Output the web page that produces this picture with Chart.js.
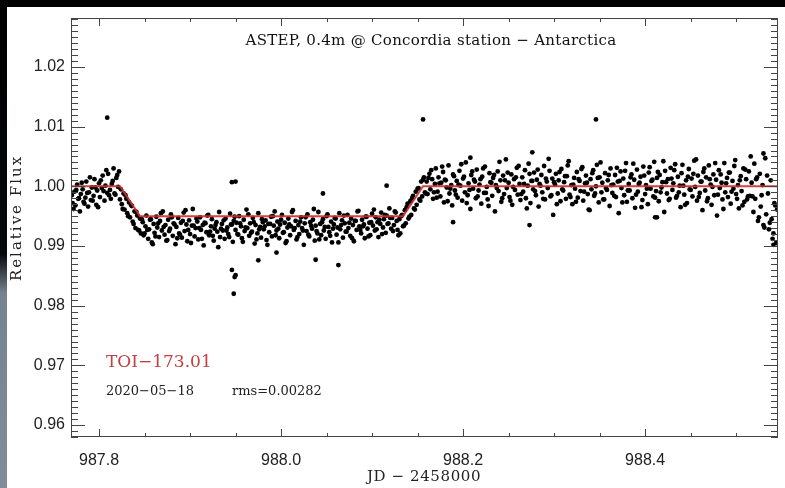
<!DOCTYPE html>
<html>
<head>
<meta charset="utf-8">
<script src="https://cdn.jsdelivr.net/npm/chart.js@4.4.0/dist/chart.umd.min.js"></script>
<style>
  html, body { margin: 0; padding: 0; background: #fff; }
  #wrap { width: 785px; height: 488px; }
</style>
</head>
<body>
<div id="wrap"><canvas id="lc" width="785" height="488"></canvas></div>
<script>
// JD - 2458000 and relative flux
const preTimes = [
  987.770, 987.771, 987.773, 987.774, 987.776, 987.777, 987.779, 987.780, 987.782, 987.783,
  987.785, 987.786, 987.788, 987.789, 987.791, 987.792, 987.794, 987.795, 987.797, 987.798,
  987.800, 987.801, 987.803, 987.804, 987.806, 987.807, 987.809, 987.810, 987.812, 987.813,
  987.815, 987.816, 987.818, 987.819, 987.821, 987.822,
  987.772, 987.775, 987.778, 987.781, 987.784, 987.787, 987.790, 987.793, 987.796, 987.799,
  987.802, 987.805, 987.808, 987.811, 987.814, 987.817, 987.820, 987.823,
];
const preFlux = [
  0.9985, 0.9972, 0.9991, 0.9968, 1.0003, 0.9979, 0.9958, 0.9987, 0.9995, 0.9974,
  0.9981, 1.0008, 0.9966, 0.9990, 0.9977, 0.9998, 0.9984, 1.0012, 0.9969, 0.9993,
  1.0005, 0.9982, 0.9997, 1.0018, 0.9976, 1.0001, 0.9989, 1.0021, 0.9994, 0.9979,
  1.0009, 1.0030, 0.9986, 1.0014, 0.9999, 1.0025,
  0.9962, 0.9994, 0.9980, 1.0006, 0.9971, 0.9989, 1.0015, 0.9976, 0.9998, 0.9965,
  1.0010, 0.9992, 1.0027, 0.9985, 1.0004, 0.9988, 1.0019, 0.9978,
];

const ingressTimes = [
  987.824, 987.825, 987.827, 987.828, 987.830, 987.831, 987.833, 987.834,
  987.836, 987.837, 987.839, 987.840, 987.842, 987.843, 987.845, 987.846,
  987.826, 987.829, 987.832, 987.835, 987.838, 987.841, 987.844, 987.847,
];
const ingressFlux = [
  0.9995, 0.9970, 0.9988, 0.9961, 0.9979, 0.9955, 0.9973, 0.9948,
  0.9967, 0.9941, 0.9958, 0.9930, 0.9951, 0.9927, 0.9946, 0.9921,
  0.9962, 0.9985, 0.9950, 0.9969, 0.9937, 0.9957, 0.9926, 0.9945,
];

const transitTimes = [
  987.848, 987.849, 987.851, 987.852, 987.854, 987.855, 987.857, 987.858, 987.860, 987.861,
  987.863, 987.864, 987.866, 987.867, 987.869, 987.870, 987.872, 987.873, 987.875, 987.876,
  987.878, 987.879, 987.881, 987.882, 987.884, 987.885, 987.887, 987.888, 987.890, 987.891,
  987.893, 987.894, 987.896, 987.897, 987.899, 987.900, 987.902, 987.903, 987.905, 987.906,
  987.908, 987.909, 987.911, 987.912, 987.914, 987.915, 987.917, 987.918, 987.920, 987.921,
  987.923, 987.924, 987.926, 987.927, 987.929, 987.930, 987.932, 987.933, 987.935, 987.936,
  987.938, 987.939, 987.941, 987.942, 987.944, 987.945, 987.947, 987.948, 987.950, 987.951,
  987.953, 987.954, 987.956, 987.957, 987.959, 987.960, 987.962, 987.963, 987.965, 987.966,
  987.968, 987.969, 987.971, 987.972, 987.974, 987.975, 987.977, 987.978, 987.980, 987.981,
  987.983, 987.984, 987.986, 987.987, 987.989, 987.990, 987.992, 987.993, 987.995, 987.996,
  987.998, 987.999, 988.001, 988.002, 988.004, 988.005, 988.007, 988.008, 988.010, 988.011,
  988.013, 988.014, 988.016, 988.017, 988.019, 988.020, 988.022, 988.023, 988.025, 988.026,
  988.028, 988.029, 988.031, 988.032, 988.034, 988.035, 988.037, 988.038, 988.040, 988.041,
  988.043, 988.044, 988.046, 988.047, 988.049, 988.050, 988.052, 988.053, 988.055, 988.056,
  988.058, 988.059, 988.061, 988.062, 988.064, 988.065, 988.067, 988.068, 988.070, 988.071,
  988.073, 988.074, 988.076, 988.077, 988.079, 988.080, 988.082, 988.083, 988.085, 988.086,
  988.088, 988.089, 988.091, 988.092, 988.094, 988.095, 988.097, 988.098, 988.100, 988.101,
  988.103, 988.104, 988.106, 988.107, 988.109, 988.110, 988.112, 988.113, 988.115, 988.116,
  988.118, 988.119, 988.121, 988.122, 988.124, 988.125, 988.127, 988.128,
  987.850, 987.853, 987.856, 987.859, 987.862, 987.865, 987.868, 987.871, 987.874, 987.877,
  987.880, 987.883, 987.886, 987.889, 987.892, 987.895, 987.898, 987.901, 987.904, 987.907,
  987.910, 987.913, 987.916, 987.919, 987.922, 987.925, 987.928, 987.931, 987.934, 987.937,
  987.940, 987.943, 987.946, 987.949, 987.952, 987.955, 987.958, 987.961, 987.964, 987.967,
  987.970, 987.973, 987.976, 987.979, 987.982, 987.985, 987.988, 987.991, 987.994, 987.997,
  988.000, 988.003, 988.006, 988.009, 988.012, 988.015, 988.018, 988.021, 988.024, 988.027,
  988.030, 988.033, 988.036, 988.039, 988.042, 988.045, 988.048, 988.051, 988.054, 988.057,
  988.060, 988.063, 988.066, 988.069, 988.072, 988.075, 988.078, 988.081, 988.084, 988.087,
  988.090, 988.093, 988.096, 988.099, 988.102, 988.105, 988.108, 988.111, 988.114, 988.117,
  988.120, 988.123, 988.126,
];
const transitFlux = [
  0.9940, 0.9918, 0.9933, 0.9951, 0.9912, 0.9928, 0.9945, 0.9906, 0.9937, 0.9922,
  0.9949, 0.9931, 0.9915, 0.9942, 0.9926, 0.9958, 0.9919, 0.9935, 0.9910, 0.9944,
  0.9929, 0.9953, 0.9917, 0.9938, 0.9903, 0.9932, 0.9947, 0.9921, 0.9939, 0.9914,
  0.9956, 0.9925, 0.9936, 0.9908, 0.9943, 0.9920, 0.9934, 0.9962, 0.9916, 0.9930,
  0.9941, 0.9911, 0.9948, 0.9927, 0.9935, 0.9901, 0.9938, 0.9923, 0.9952, 0.9918,
  0.9933, 0.9945, 0.9909, 0.9929, 0.9940, 0.9924, 0.9957, 0.9915, 0.9937, 0.9926,
  0.9912, 0.9946, 0.9931, 0.9920, 0.9954, 0.9936, 0.9907, 0.9942, 0.9927, 0.9939,
  0.9919, 0.9950, 0.9933, 0.9913, 0.9944, 0.9925, 0.9961, 0.9930, 0.9917, 0.9938,
  0.9924, 0.9947, 0.9904, 0.9935, 0.9921, 0.9955, 0.9932, 0.9914, 0.9940, 0.9928,
  0.9943, 0.9910, 0.9937, 0.9923, 0.9949, 0.9916, 0.9934, 0.9958, 0.9926, 0.9941,
  0.9913, 0.9936, 0.9952, 0.9922, 0.9939, 0.9905, 0.9931, 0.9946, 0.9918, 0.9933,
  0.9960, 0.9927, 0.9942, 0.9911, 0.9935, 0.9920, 0.9948, 0.9930, 0.9902, 0.9938,
  0.9925, 0.9953, 0.9916, 0.9940, 0.9929, 0.9944, 0.9909, 0.9934, 0.9921, 0.9957,
  0.9937, 0.9918, 0.9945, 0.9926, 0.9912, 0.9950, 0.9932, 0.9923, 0.9941, 0.9906,
  0.9936, 0.9947, 0.9919, 0.9931, 0.9955, 0.9928, 0.9943, 0.9914, 0.9938, 0.9924,
  0.9952, 0.9930, 0.9917, 0.9946, 0.9935, 0.9908, 0.9942, 0.9927, 0.9959, 0.9933,
  0.9921, 0.9944, 0.9936, 0.9913, 0.9949, 0.9929, 0.9939, 0.9918, 0.9954, 0.9934,
  0.9926, 0.9948, 0.9940, 0.9915, 0.9937, 0.9956, 0.9931, 0.9945, 0.9922, 0.9951,
  0.9938, 0.9963, 0.9929, 0.9947, 0.9935, 0.9958, 0.9942, 0.9927,
  0.9921, 0.9927, 0.9944, 0.9903, 0.9916, 0.9938, 0.9955, 0.9932, 0.9909, 0.9925,
  0.9948, 0.9936, 0.9913, 0.9919, 0.9942, 0.9960, 0.9927, 0.9905, 0.9934, 0.9946,
  0.9930, 0.9912, 0.9939, 0.9951, 0.9924, 0.9917, 0.9935, 0.9898, 0.9929, 0.9943,
  0.9926, 0.9915, 0.9936, 0.9949, 0.9920, 0.9938, 0.9907, 0.9931, 0.9953, 0.9922,
  0.9940, 0.9911, 0.9928, 0.9945, 0.9933, 0.9902, 0.9937, 0.9950, 0.9918, 0.9929,
  0.9944, 0.9923, 0.9908, 0.9936, 0.9957, 0.9930, 0.9915, 0.9941, 0.9926, 0.9948,
  0.9919, 0.9934, 0.9962, 0.9925, 0.9911, 0.9940, 0.9932, 0.9953, 0.9917, 0.9929,
  0.9946, 0.9906, 0.9935, 0.9951, 0.9924, 0.9939, 0.9913, 0.9942, 0.9958, 0.9927,
  0.9933, 0.9949, 0.9916, 0.9940, 0.9961, 0.9928, 0.9944, 0.9920, 0.9952, 0.9937,
  0.9947, 0.9925, 0.9956,
];

const egressTimes = [
  988.130, 988.131, 988.133, 988.134, 988.136, 988.137, 988.139, 988.140, 988.142, 988.143,
  988.145, 988.146, 988.148, 988.149, 988.151, 988.152, 988.154, 988.155, 988.157, 988.158,
  988.129, 988.132, 988.135, 988.138, 988.141, 988.144, 988.147, 988.150, 988.153, 988.156,
  988.159,
];
const egressFlux = [
  0.9945, 0.9921, 0.9952, 0.9933, 0.9960, 0.9938, 0.9971, 0.9946, 0.9975, 0.9952,
  0.9984, 0.9963, 0.9991, 0.9969, 0.9997, 0.9978, 1.0008, 0.9983, 1.0015, 0.9990,
  0.9918, 0.9950, 0.9934, 0.9965, 0.9949, 0.9980, 0.9961, 0.9996, 0.9976, 1.0011,
  0.9988,
];

const postTimes = [
  988.160, 988.161, 988.163, 988.164, 988.166, 988.167, 988.169, 988.170, 988.172, 988.173,
  988.175, 988.176, 988.178, 988.179, 988.181, 988.182, 988.184, 988.185, 988.187, 988.188,
  988.190, 988.191, 988.193, 988.194, 988.196, 988.197, 988.199, 988.200, 988.202, 988.203,
  988.205, 988.206, 988.208, 988.209, 988.211, 988.212, 988.214, 988.215, 988.217, 988.218,
  988.220, 988.221, 988.223, 988.224, 988.226, 988.227, 988.229, 988.230, 988.232, 988.233,
  988.235, 988.236, 988.238, 988.239, 988.241, 988.242, 988.244, 988.245, 988.247, 988.248,
  988.250, 988.251, 988.253, 988.254, 988.256, 988.257, 988.259, 988.260, 988.262, 988.263,
  988.265, 988.266, 988.268, 988.269, 988.271, 988.272, 988.274, 988.275, 988.277, 988.278,
  988.280, 988.281, 988.283, 988.284, 988.286, 988.287, 988.289, 988.290, 988.292, 988.293,
  988.295, 988.296, 988.298, 988.299, 988.301, 988.302, 988.304, 988.305, 988.307, 988.308,
  988.310, 988.311, 988.313, 988.314, 988.316, 988.317, 988.319, 988.320, 988.322, 988.323,
  988.325, 988.326, 988.328, 988.329, 988.331, 988.332, 988.334, 988.335, 988.337, 988.338,
  988.340, 988.341, 988.343, 988.344, 988.346, 988.347, 988.349, 988.350, 988.352, 988.353,
  988.355, 988.356, 988.358, 988.359, 988.361, 988.362, 988.364, 988.365, 988.367, 988.368,
  988.370, 988.371, 988.373, 988.374, 988.376, 988.377, 988.379, 988.380, 988.382, 988.383,
  988.385, 988.386, 988.388, 988.389, 988.391, 988.392, 988.394, 988.395, 988.397, 988.398,
  988.400, 988.401, 988.403, 988.404, 988.406, 988.407, 988.409, 988.410, 988.412, 988.413,
  988.415, 988.416, 988.418, 988.419, 988.421, 988.422, 988.424, 988.425, 988.427, 988.428,
  988.430, 988.431, 988.433, 988.434, 988.436, 988.437, 988.439, 988.440, 988.442, 988.443,
  988.445, 988.446, 988.448, 988.449, 988.451, 988.452, 988.454, 988.455, 988.457, 988.458,
  988.460, 988.461, 988.463, 988.464, 988.466, 988.467, 988.469, 988.470, 988.472, 988.473,
  988.475, 988.476, 988.478, 988.479, 988.481, 988.482, 988.484, 988.485, 988.487, 988.488,
  988.490, 988.491, 988.493, 988.494, 988.496, 988.497, 988.499, 988.500, 988.502, 988.503,
  988.505, 988.506, 988.508, 988.509, 988.511, 988.512, 988.514, 988.515, 988.517, 988.518,
  988.520, 988.521, 988.523, 988.524, 988.526, 988.527, 988.529, 988.530, 988.532, 988.533,
  988.535, 988.536, 988.538, 988.539, 988.541, 988.542, 988.544, 988.545,
  988.162, 988.165, 988.168, 988.171, 988.174, 988.177, 988.180, 988.183, 988.186, 988.189,
  988.192, 988.195, 988.198, 988.201, 988.204, 988.207, 988.210, 988.213, 988.216, 988.219,
  988.222, 988.225, 988.228, 988.231, 988.234, 988.237, 988.240, 988.243, 988.246, 988.249,
  988.252, 988.255, 988.258, 988.261, 988.264, 988.267, 988.270, 988.273, 988.276, 988.279,
  988.282, 988.285, 988.288, 988.291, 988.294, 988.297, 988.300, 988.303, 988.306, 988.309,
  988.312, 988.315, 988.318, 988.321, 988.324, 988.327, 988.330, 988.333, 988.336, 988.339,
  988.342, 988.345, 988.348, 988.351, 988.354, 988.357, 988.360, 988.363, 988.366, 988.369,
  988.372, 988.375, 988.378, 988.381, 988.384, 988.387, 988.390, 988.393, 988.396, 988.399,
  988.402, 988.405, 988.408, 988.411, 988.414, 988.417, 988.420, 988.423, 988.426, 988.429,
  988.432, 988.435, 988.438, 988.441, 988.444, 988.447, 988.450, 988.453, 988.456, 988.459,
  988.462, 988.465, 988.468, 988.471, 988.474, 988.477, 988.480, 988.483, 988.486, 988.489,
  988.492, 988.495, 988.498, 988.501, 988.504, 988.507, 988.510, 988.513, 988.516, 988.519,
  988.522, 988.525, 988.528, 988.531, 988.534, 988.537, 988.540, 988.543,
];
const postFlux = [
  1.0008, 0.9987, 1.0021, 0.9995, 1.0012, 0.9979, 1.0004, 1.0030, 0.9991, 1.0015,
  0.9983, 1.0006, 1.0024, 0.9973, 1.0010, 0.9998, 1.0035, 0.9988, 1.0002, 0.9968,
  1.0017, 0.9993, 1.0009, 0.9981, 1.0026, 1.0001, 0.9976, 1.0013, 0.9990, 1.0040,
  0.9985, 1.0005, 0.9962, 1.0019, 0.9996, 1.0011, 0.9980, 1.0028, 0.9993, 1.0003,
  0.9971, 1.0016, 0.9989, 1.0033, 0.9999, 0.9978, 1.0022, 1.0007, 0.9984, 1.0014,
  0.9958, 1.0002, 1.0025, 0.9992, 1.0010, 0.9974, 1.0018, 0.9987, 1.0045, 0.9997,
  1.0006, 0.9982, 1.0020, 0.9969, 1.0012, 0.9994, 1.0031, 0.9986, 1.0004, 0.9977,
  1.0015, 0.9991, 1.0027, 0.9980, 1.0001, 1.0038, 0.9972, 1.0009, 0.9995, 1.0023,
  0.9985, 1.0011, 0.9966, 1.0004, 1.0019, 0.9990, 1.0034, 0.9978, 1.0008, 0.9997,
  1.0026, 0.9983, 1.0013, 0.9952, 1.0003, 1.0021, 0.9988, 1.0010, 0.9975, 1.0029,
  0.9993, 1.0007, 0.9979, 1.0017, 1.0042, 0.9986, 1.0002, 0.9970, 1.0014, 0.9996,
  1.0024, 0.9981, 1.0009, 0.9992, 1.0032, 0.9976, 1.0005, 1.0018, 0.9987, 0.9961,
  1.0012, 0.9995, 1.0027, 0.9984, 1.0000, 1.0036, 0.9973, 1.0015, 0.9990, 1.0006,
  0.9978, 1.0022, 0.9994, 1.0010, 0.9967, 1.0030, 0.9989, 1.0003, 1.0019, 0.9982,
  1.0008, 0.9955, 1.0025, 0.9997, 1.0013, 0.9985, 1.0039, 0.9974, 1.0004, 0.9993,
  1.0020, 0.9980, 1.0011, 0.9964, 1.0028, 0.9991, 1.0006, 1.0016, 0.9977, 1.0033,
  0.9987, 1.0002, 0.9970, 1.0023, 0.9996, 1.0009, 0.9983, 1.0041, 0.9992, 1.0014,
  0.9975, 1.0019, 0.9998, 1.0007, 0.9957, 1.0026, 0.9988, 1.0012, 0.9979, 1.0031,
  0.9994, 1.0005, 1.0037, 0.9981, 1.0016, 0.9990, 0.9965, 1.0022, 1.0001, 0.9986,
  1.0010, 0.9972, 1.0029, 0.9995, 1.0013, 0.9983, 1.0043, 0.9999, 0.9976, 1.0018,
  0.9989, 1.0008, 0.9960, 1.0024, 0.9993, 1.0015, 0.9980, 1.0035, 1.0003, 0.9969,
  1.0020, 0.9985, 1.0011, 0.9951, 1.0027, 0.9997, 1.0006, 0.9978, 1.0039, 0.9990,
  1.0014, 0.9982, 1.0023, 0.9971, 1.0009, 0.9996, 1.0044, 0.9987, 1.0002, 0.9963,
  1.0017, 0.9992, 1.0030, 0.9974, 1.0012, 0.9978, 1.0025, 0.9984, 1.0006, 0.9983,
  1.0038, 0.9979, 1.0015, 0.9942, 1.0021, 0.9966, 1.0002, 0.9935, 1.0047, 0.9953,
  0.9988, 0.9928, 1.0010, 0.9945, 0.9921, 0.9972, 0.9905, 0.9961,
  1.0014, 1.0027, 0.9990, 0.9981, 1.0005, 1.0033, 1.0011, 0.9975, 0.9996, 1.0020,
  0.9986, 1.0003, 1.0037, 1.0016, 0.9972, 0.9994, 1.0025, 1.0008, 0.9983, 1.0012,
  1.0030, 0.9989, 0.9967, 1.0006, 1.0019, 0.9997, 1.0041, 0.9980, 1.0010, 1.0023,
  0.9976, 0.9999, 1.0015, 1.0034, 0.9987, 1.0004, 0.9963, 1.0021, 1.0009, 0.9992,
  1.0028, 1.0001, 0.9979, 1.0013, 1.0046, 0.9985, 1.0007, 0.9970, 1.0024, 0.9995,
  1.0017, 1.0035, 0.9982, 1.0003, 0.9974, 1.0012, 1.0029, 0.9991, 1.0006, 0.9960,
  1.0022, 0.9988, 1.0014, 1.0040, 0.9978, 0.9997, 1.0019, 1.0002, 0.9984, 1.0031,
  1.0009, 0.9973, 1.0026, 0.9993, 1.0015, 1.0038, 0.9986, 1.0004, 0.9965, 1.0018,
  0.9996, 1.0032, 1.0011, 0.9981, 1.0024, 0.9990, 1.0042, 1.0007, 0.9977, 1.0013,
  1.0027, 0.9984, 1.0001, 1.0036, 0.9969, 1.0016, 0.9994, 1.0021, 1.0045, 0.9982,
  1.0008, 1.0030, 0.9975, 1.0012, 0.9999, 1.0039, 0.9986, 1.0020, 0.9962, 1.0005,
  1.0023, 0.9991, 1.0034, 0.9979, 1.0010, 0.9968, 1.0028, 0.9983, 1.0050, 0.9957,
  1.0012, 0.9948, 0.9985, 0.9931, 1.0018, 0.9939, 0.9912, 0.9968,
];

// isolated points well off the band
const outlierTimes = [
  987.809, 988.156, 988.346, 987.946, 987.949, 987.950, 987.948, 987.946, 987.950,
  987.975, 988.063, 988.038, 987.995, 988.046, 988.116, 988.189, 988.273, 988.411,
  988.413, 988.530, 988.541, 988.276, 988.208,
];
const outlierFlux = [
  1.0115, 1.0112, 1.0112, 0.9860, 0.9848, 0.9851, 0.9820, 1.0007, 1.0008,
  0.9876, 0.9868, 0.9877, 0.9889, 0.9988, 1.0001, 0.9940, 0.9935, 0.9948,
  0.9948, 1.0055, 0.9902, 1.0057, 1.0048,
];

// transit model
const modelTimes = [987.7692, 987.823, 987.845, 988.134, 988.156, 988.546];
const modelFlux = [1.0, 1.0, 0.995, 0.995, 1.0, 1.0];

const xTicks = { min: 987.7692, max: 988.546, step: 0.2 };
const yTicks = { min: 0.958, max: 1.0282, step: 0.01 };

const toPoints = (ts, fs) => ts.map((t, i) => ({ x: t, y: fs[i] }));

const fluxPoints = [
  ...toPoints(preTimes, preFlux),
  ...toPoints(ingressTimes, ingressFlux),
  ...toPoints(transitTimes, transitFlux),
  ...toPoints(egressTimes, egressFlux),
  ...toPoints(postTimes, postFlux),
  ...toPoints(outlierTimes, outlierFlux),
];

const backdrop = {
  id: 'backdrop',
  beforeDraw(chart) {
    const c = chart.ctx;
    const w = chart.width;
    const h = chart.height;
    c.save();
    c.fillStyle = '#fff';
    c.fillRect(0, 0, w, h);
    c.fillStyle = '#000';
    c.fillRect(0, 0, w, 7);
    const g = c.createLinearGradient(0, 0, 0, h);
    g.addColorStop(0, '#000');
    g.addColorStop(0.52, '#06080b');
    g.addColorStop(0.6, '#75828f');
    g.addColorStop(1, '#808c99');
    c.fillStyle = g;
    c.fillRect(0, 7, 7, h - 7);
    c.restore();
  },
};

const frame = {
  id: 'frame',
  afterDraw(chart) {
    const { ctx, chartArea: a, scales } = chart;
    const x = scales.x;
    const y = scales.y;
    ctx.save();
    ctx.strokeStyle = '#444';
    ctx.lineWidth = 1;
    ctx.strokeRect(a.left + 0.5, a.top + 0.5, a.right - a.left - 1, a.bottom - a.top - 1);

    ctx.beginPath();
    // y ticks: major every 0.01, minor every 0.001
    for (let k = Math.ceil(y.min * 1000); k <= Math.floor(y.max * 1000); k++) {
      const py = Math.round(y.getPixelForValue(k / 1000)) + 0.5;
      const len = k % 10 === 0 ? 14 : 7;
      ctx.moveTo(a.left, py);
      ctx.lineTo(a.left + len, py);
      ctx.moveTo(a.right, py);
      ctx.lineTo(a.right - len, py);
    }
    // x ticks: major every 0.2, minor every 0.05
    for (let k = Math.ceil(x.min * 20); k <= Math.floor(x.max * 20); k++) {
      const px = Math.round(x.getPixelForValue(k / 20)) + 0.5;
      const len = k % 4 === 0 ? 8 : 4;
      ctx.moveTo(px, a.bottom);
      ctx.lineTo(px, a.bottom - len);
      ctx.moveTo(px, a.top);
      ctx.lineTo(px, a.top + len);
    }
    ctx.stroke();

    ctx.textBaseline = 'middle';
    ctx.fillStyle = '#111';
    ctx.font = '15px "DejaVu Serif"';
    ctx.textAlign = 'center';
    ctx.letterSpacing = '0.3px';
    ctx.fillText('ASTEP, 0.4m @ Concordia station \u2212 Antarctica', 431, 41);

    ctx.textAlign = 'left';
    ctx.letterSpacing = '0px';
    ctx.fillStyle = '#c04040';
    ctx.font = '17px "DejaVu Serif"';
    ctx.fillText('TOI\u2212173.01', 106, 363);

    ctx.fillStyle = '#222';
    ctx.font = '13px "DejaVu Serif"';
    ctx.fillText('2020\u221205\u221218', 106, 392);
    ctx.fillText('rms=0.00282', 232, 392);

    ctx.textAlign = 'center';
    ctx.letterSpacing = '0.6px';
    ctx.font = '15px "DejaVu Serif"';
    ctx.fillText('JD \u2212 2458000', 424, 477);

    ctx.translate(17, 218);
    ctx.rotate(-Math.PI / 2);
    ctx.letterSpacing = '2px';
    ctx.fillText('Relative Flux', 0, 0);
    ctx.restore();
  },
};

const tickFont = { family: 'Liberation Sans', size: 16 };

new Chart(document.getElementById('lc'), {
  type: 'scatter',
  data: {
    datasets: [
      {
        label: 'model',
        type: 'line',
        data: toPoints(modelTimes, modelFlux),
        borderColor: 'rgba(205, 45, 45, 0.9)',
        borderWidth: 2,
        pointRadius: 0,
        fill: false,
        order: 0,
      },
      {
        label: 'flux',
        data: fluxPoints,
        backgroundColor: '#000',
        borderWidth: 0,
        pointRadius: 2.4,
        order: 1,
      },
    ],
  },
  options: {
    responsive: false,
    animation: false,
    events: [],
    layout: { padding: { top: 18, right: 7, left: 0, bottom: 0 } },
    plugins: {
      legend: { display: false },
      tooltip: { enabled: false },
    },
    scales: {
      x: {
        type: 'linear',
        min: xTicks.min,
        max: xTicks.max,
        afterFit: (s) => { s.height = 51; },
        grid: { display: false, drawTicks: false },
        border: { display: false },
        ticks: {
          stepSize: xTicks.step,
          includeBounds: false,
          autoSkip: false,
          maxRotation: 0,
          padding: 14,
          color: '#222',
          font: tickFont,
          callback: (v) => v.toFixed(1),
        },
      },
      y: {
        type: 'linear',
        min: yTicks.min,
        max: yTicks.max,
        afterFit: (s) => { s.width = 71; },
        grid: { display: false, drawTicks: false },
        border: { display: false },
        ticks: {
          stepSize: yTicks.step,
          includeBounds: false,
          autoSkip: false,
          padding: 6,
          color: '#222',
          font: tickFont,
          callback: (v) => v.toFixed(2),
        },
      },
    },
  },
  plugins: [backdrop, frame],
});
</script>
</body>
</html>
